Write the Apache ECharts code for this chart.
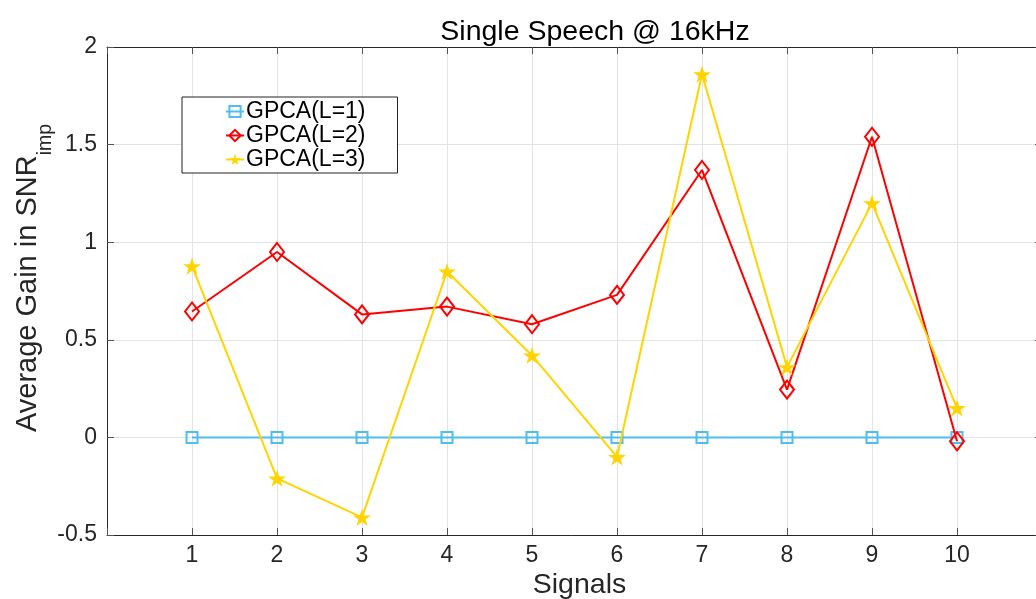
<!DOCTYPE html>
<html>
<head>
<meta charset="utf-8">
<script src="https://cdn.jsdelivr.net/npm/echarts@6/dist/echarts.min.js"></script>
<style>
  html, body { margin: 0; padding: 0; background: #fff; }
  #chart { width: 1036px; height: 599px; }
</style>
</head>
<body>
<div id="chart"></div>
<script>
// Signal indices along the x axis
const signals = [1, 2, 3, 4, 5, 6, 7, 8, 9, 10];
// Average SNR improvement per signal for each GPCA order
const gpcaL1 = [0, 0, 0, 0, 0, 0, 0, 0, 0, 0];
const gpcaL2 = [0.645, 0.95, 0.63, 0.67, 0.58, 0.73, 1.37, 0.245, 1.54, -0.02];
const gpcaL3 = [0.877, -0.21, -0.41, 0.85, 0.42, -0.10, 1.86, 0.36, 1.20, 0.15];
const yTicks = [-0.5, 0, 0.5, 1, 1.5, 2];

const FONT = 'Liberation Sans, Arial, Helvetica, sans-serif';
const TXT = '#262626';
const STAR = 'path://M50,0 L61.8,35.1 L98.9,35.1 L68.9,56.8 L80.3,91.9 L50,70.2 L19.7,91.9 L31.1,56.8 L1.1,35.1 L38.2,35.1 Z';

const pairs = arr => signals.map((s, i) => [s, arr[i]]);

const axisCommon = {
  type: 'value',
  axisLine: { show: true, onZero: false, lineStyle: { color: '#262626', width: 1 } },
  axisTick: { show: true, inside: true, length: 7, lineStyle: { color: '#555', width: 1 } },
};

const chart = echarts.init(document.getElementById('chart'), null, { renderer: 'canvas' });
chart.setOption({
  animation: false,
  backgroundColor: '#fff',
  title: {
    text: 'Single Speech @ 16kHz',
    left: 590, top: 13, textAlign: 'center',
    textStyle: { fontFamily: FONT, fontSize: 28.5, fontWeight: 'normal', color: '#000' }
  },
  grid: {
    left: 107, top: 47, width: 935, height: 488,
    outerBoundsMode: 'none', containLabel: false
  },
  legend: {
    orient: 'vertical',
    left: 182, top: 97,
    width: 216,
    padding: [3, 32, 2, 43],
    itemGap: 1,
    itemWidth: 18, itemHeight: 14,
    backgroundColor: '#fff',
    borderColor: '#222', borderWidth: 1,
    textStyle: { fontFamily: FONT, fontSize: 23, color: '#000', padding: [0, 0, 0, -3] },
    data: ['GPCA(L=1)', 'GPCA(L=2)', 'GPCA(L=3)']
  },
  xAxis: [
    Object.assign({}, axisCommon, {
      position: 'bottom',
      min: 0, max: 11, interval: 1,
      name: 'Signals', nameLocation: 'middle', nameGap: 36, nameMoveOverlap: false,
      nameTextStyle: { fontFamily: FONT, fontSize: 28.5, color: TXT, padding: [0, 0, 0, 10] },
      axisLabel: {
        fontFamily: FONT, fontSize: 23, color: TXT, margin: 9,
        formatter: v => (signals.includes(v) ? String(v) : '')
      },
      splitLine: { show: true, lineStyle: { color: '#e3e3e3', width: 1 } }
    }),
    Object.assign({}, axisCommon, {
      position: 'top',
      min: 0, max: 11, interval: 1,
      axisLabel: { show: false },
      splitLine: { show: false }
    })
  ],
  yAxis: [
    Object.assign({}, axisCommon, {
      position: 'left',
      min: yTicks[0], max: yTicks[yTicks.length - 1], interval: 0.5,
      name: '{a|Average Gain in SNR}{b|imp}',
      nameLocation: 'middle', nameGap: 63, nameRotate: 90, nameMoveOverlap: false,
      nameTextStyle: {
        fontFamily: FONT, color: TXT,
        padding: [0, 0, 0, 26],
        rich: {
          a: { fontFamily: FONT, fontSize: 29, color: TXT, lineHeight: 32, verticalAlign: 'middle' },
          b: { fontFamily: FONT, fontSize: 19.5, color: TXT, lineHeight: 32, verticalAlign: 'bottom', padding: [0, 0, -12, 0] }
        }
      },
      axisLabel: {
        fontFamily: FONT, fontSize: 23, color: TXT, margin: 10,
        formatter: v => String(v)
      },
      splitLine: { show: true, lineStyle: { color: '#e3e3e3', width: 1 } }
    }),
    Object.assign({}, axisCommon, {
      position: 'right',
      min: yTicks[0], max: yTicks[yTicks.length - 1], interval: 0.5,
      axisLabel: { show: false },
      splitLine: { show: false }
    })
  ],
  series: [
    {
      name: 'GPCA(L=1)', type: 'line', data: pairs(gpcaL1),
      symbol: 'rect', symbolSize: 11,
      lineStyle: { color: '#4DBEEE', width: 2 },
      itemStyle: { color: 'rgba(255,255,255,0)', borderColor: '#4DBEEE', borderWidth: 2 },
      z: 2
    },
    {
      name: 'GPCA(L=2)', type: 'line', data: pairs(gpcaL2),
      symbol: 'diamond', symbolSize: [14, 18],
      lineStyle: { color: '#FF0000', width: 2 },
      itemStyle: { color: 'rgba(255,255,255,0)', borderColor: '#FF0000', borderWidth: 2 },
      z: 3
    },
    {
      name: 'GPCA(L=3)', type: 'line', data: pairs(gpcaL3),
      symbol: STAR, symbolSize: 18, symbolKeepAspect: true,
      lineStyle: { color: '#FFD400', width: 2 },
      itemStyle: { color: '#FFD400', borderColor: '#FFD400', borderWidth: 0 },
      z: 4
    }
  ]
});
</script>
</body>
</html>
